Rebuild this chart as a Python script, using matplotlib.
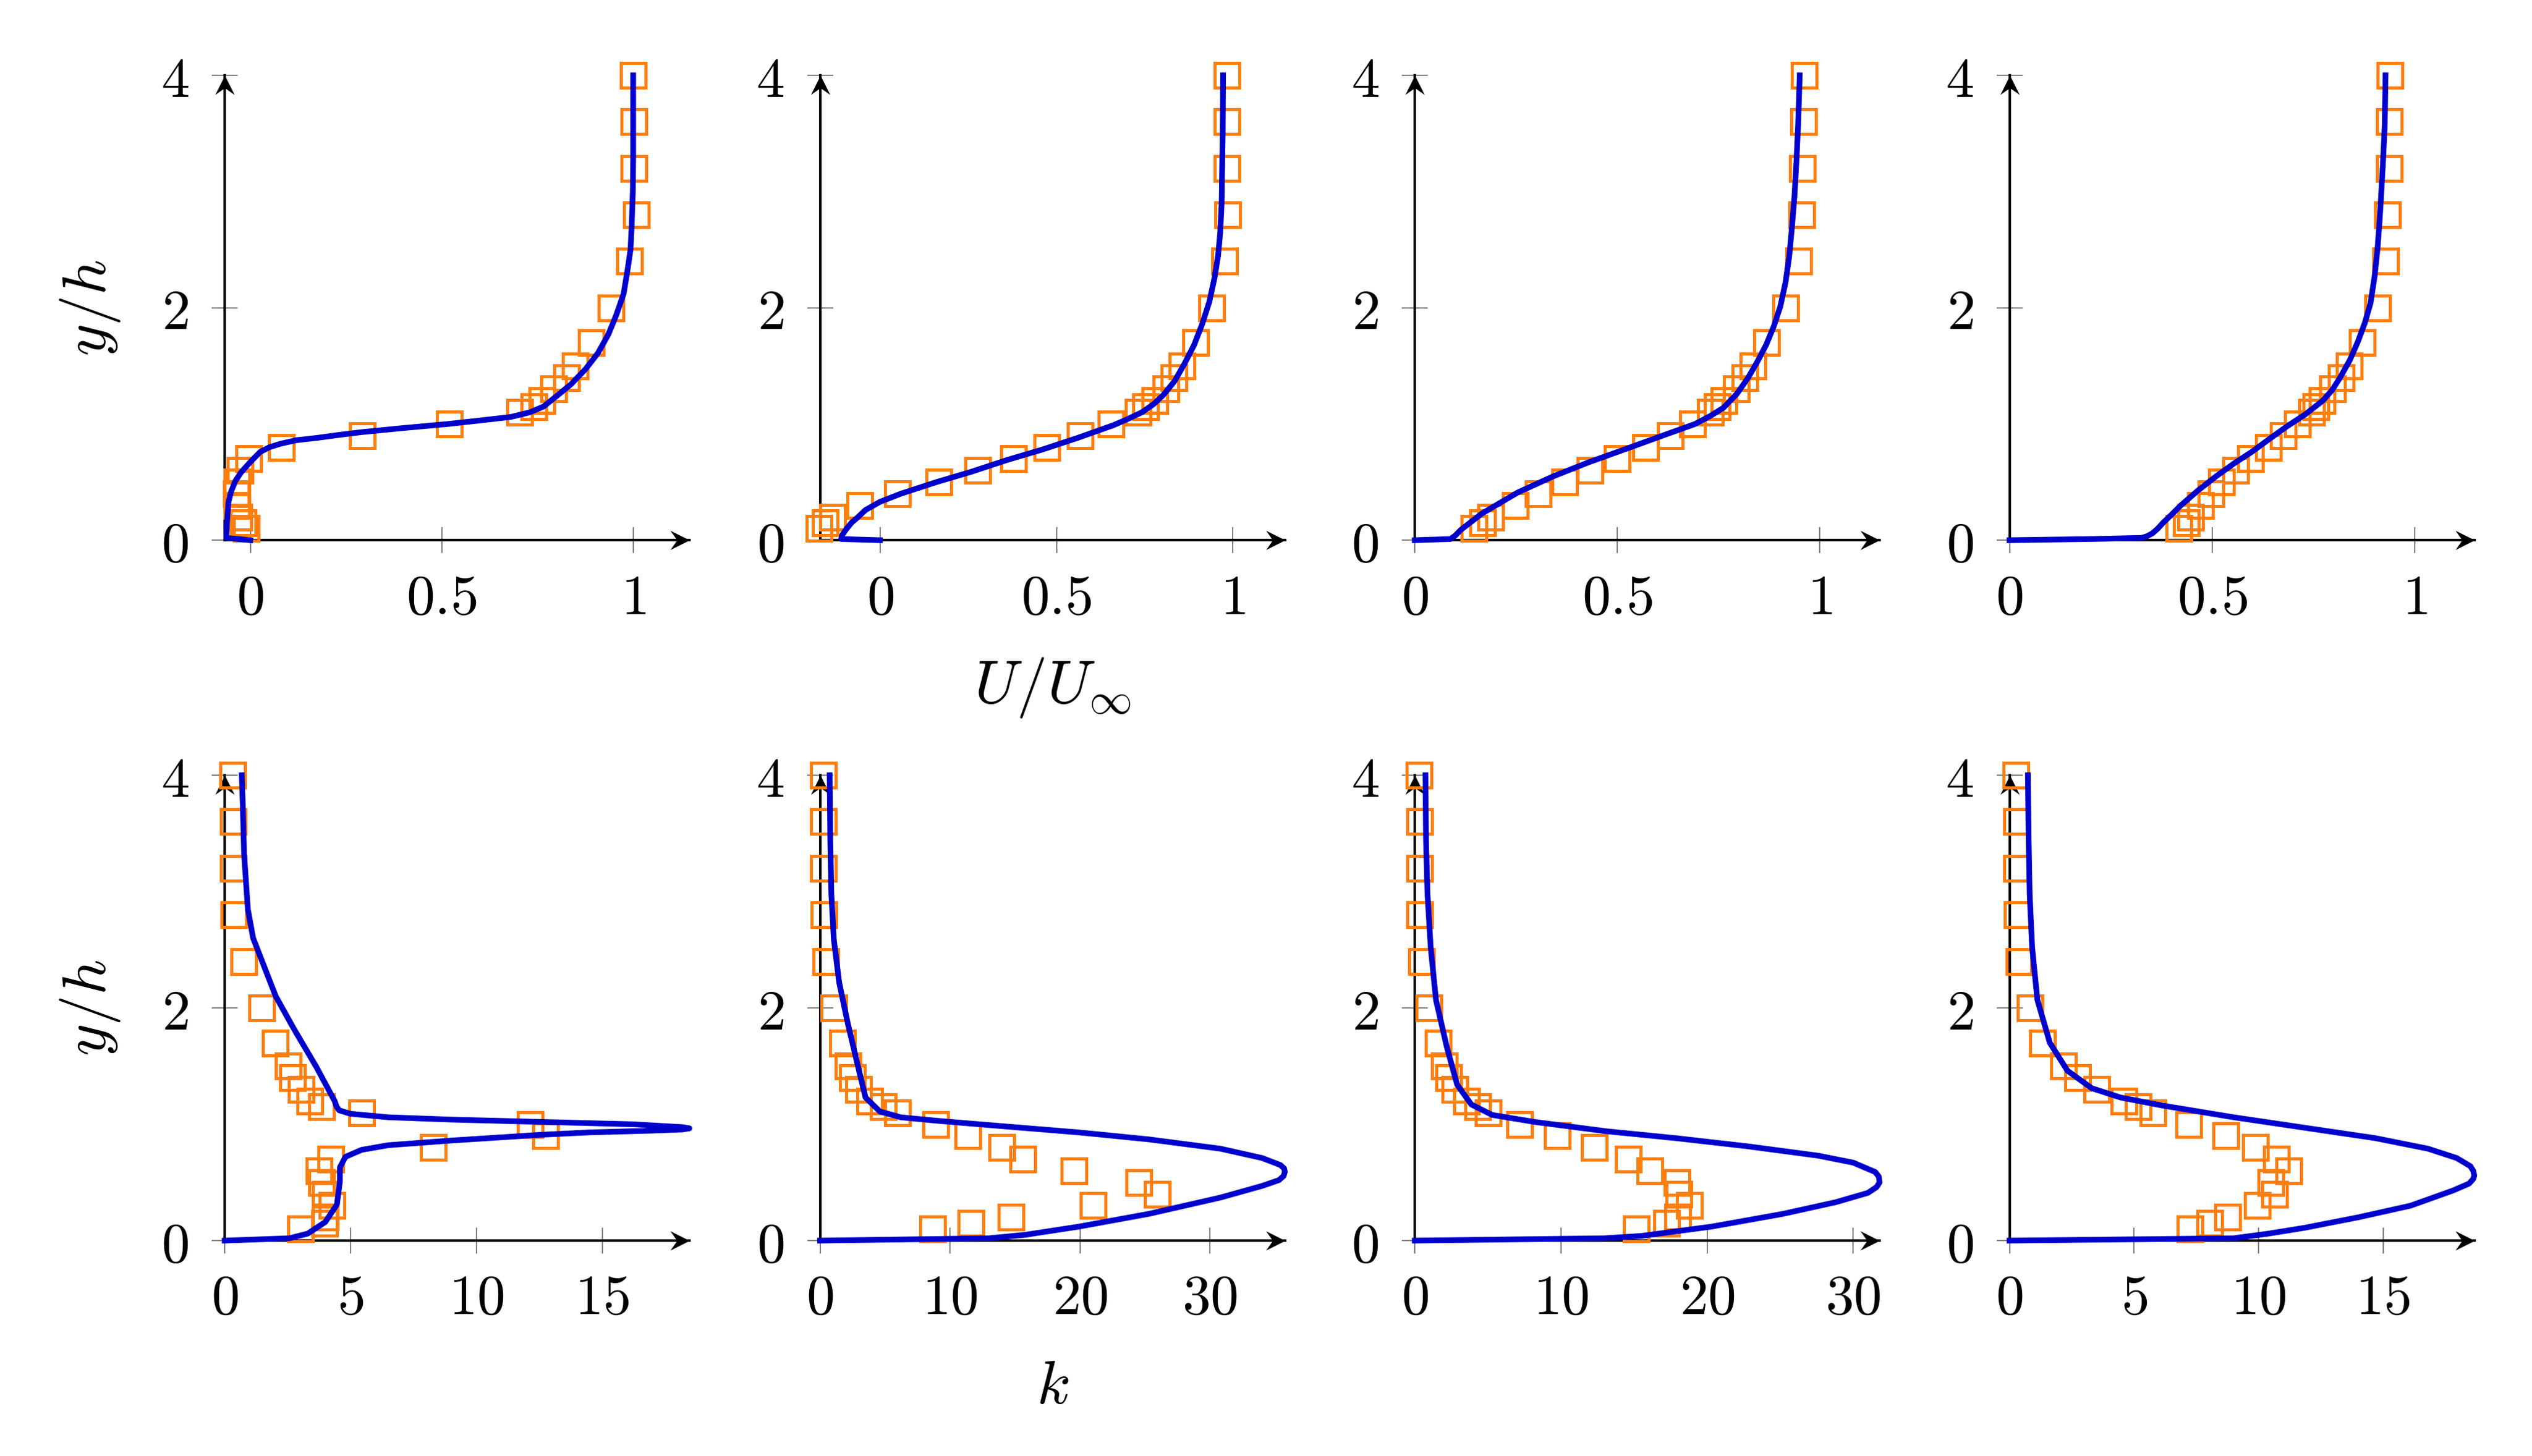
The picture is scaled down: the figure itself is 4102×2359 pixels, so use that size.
import matplotlib
matplotlib.use("Agg")
import matplotlib.pyplot as plt
from matplotlib.path import Path

plt.rcParams['mathtext.fontset'] = 'cm'
plt.rcParams['font.family'] = ['DejaVu Serif']

# experiment heights (same stations for every profile)
y_exp = [4.0, 3.6, 3.2, 2.8, 2.4, 2.0, 1.7, 1.5, 1.4, 1.3, 1.2, 1.15, 1.1,
         1.0, 0.9, 0.8, 0.7, 0.6, 0.5, 0.4, 0.3, 0.2, 0.15, 0.1]

# U/U_inf experiment
u_exp_1 = [1.0, 1.002, 1.002, 1.008, 0.99, 0.942, 0.891, 0.849, 0.826, 0.792, 0.762, 0.740, 0.704,
           0.520, 0.292, 0.082, -0.004, -0.027, -0.035, -0.037, -0.035, -0.03, -0.018, -0.01]
u_exp_2 = [0.984, 0.984, 0.983, 0.985, 0.977, 0.940, 0.894, 0.855, 0.833, 0.810, 0.778, 0.753, 0.731,
           0.655, 0.567, 0.472, 0.379, 0.277, 0.167, 0.050, -0.057, -0.135, -0.156, -0.172]
u_exp_3 = [0.961, 0.959, 0.956, 0.955, 0.948, 0.915, 0.869, 0.835, 0.815, 0.794, 0.763, 0.746, 0.729,
           0.686, 0.630, 0.569, 0.500, 0.433, 0.370, 0.305, 0.248, 0.187, 0.168, 0.146]
u_exp_4 = [0.939, 0.938, 0.937, 0.933, 0.928, 0.908, 0.871, 0.839, 0.818, 0.797, 0.771, 0.757, 0.746,
           0.711, 0.676, 0.639, 0.595, 0.558, 0.523, 0.497, 0.471, 0.447, 0.436, 0.418]

# k experiment
k_exp_1 = [0.32, 0.34, 0.34, 0.38, 0.77, 1.46, 2.0, 2.52, 2.70, 3.05, 3.38, 3.85, 5.44,
           12.15, 12.76, 8.30, 4.22, 3.76, 3.86, 4.0, 4.28, 4.0, 3.97, 3.02]
k_exp_2 = [0.25, 0.27, 0.27, 0.30, 0.46, 1.09, 1.72, 2.18, 2.48, 2.97, 3.84, 4.88, 5.94,
           8.91, 11.36, 14.0, 15.6, 19.56, 24.5, 25.94, 21.0, 14.7, 11.6, 8.66]
k_exp_3 = [0.31, 0.34, 0.34, 0.34, 0.46, 0.99, 1.62, 2.01, 2.32, 2.76, 3.54, 4.29, 5.01,
           7.19, 9.76, 12.28, 14.6, 16.08, 17.94, 18.06, 18.8, 17.99, 17.24, 15.18]
k_exp_4 = [0.27, 0.28, 0.28, 0.30, 0.38, 0.82, 1.32, 2.16, 2.74, 3.51, 4.59, 5.17, 5.77,
           7.19, 8.69, 9.87, 10.72, 11.21, 10.5, 10.64, 9.94, 8.75, 8.05, 7.26]

# simulation, U/U_inf
u_sim_y_1 = [0, 0.02, 0.15, 0.33, 0.42, 0.51, 0.58, 0.64, 0.70, 0.76, 0.80, 0.83, 0.86, 0.88,
             0.905, 0.93, 0.965, 1.0, 1.03, 1.06, 1.10, 1.15, 1.24, 1.34, 1.47, 1.61, 1.77, 1.93,
             2.12, 2.32, 2.50, 2.70, 3.0, 3.29, 4.0]
u_sim_1 = [0, -0.063, -0.061, -0.057, -0.05, -0.039, -0.025, -0.009, 0.008, 0.026, 0.05, 0.079,
           0.12, 0.174, 0.23, 0.292, 0.40, 0.517, 0.60, 0.68, 0.73, 0.766, 0.80, 0.837, 0.875,
           0.908, 0.935, 0.955, 0.975, 0.985, 0.993, 0.996, 0.999, 1.0, 1.0]
u_sim_y_2 = [0, 0.01, 0.04, 0.09, 0.15, 0.20, 0.26, 0.33, 0.40, 0.50, 0.59, 0.69, 0.78, 0.88,
             0.99, 1.04, 1.10, 1.17, 1.25, 1.37, 1.52, 1.68, 1.86, 2.05, 2.26, 2.45, 2.65, 2.9,
             3.11, 3.5, 4.0]
u_sim_2 = [0, -0.11, -0.108, -0.097, -0.081, -0.062, -0.041, 0.0, 0.059, 0.16, 0.26, 0.36, 0.46,
           0.56, 0.662, 0.70, 0.742, 0.775, 0.803, 0.835, 0.863, 0.89, 0.913, 0.933, 0.948,
           0.958, 0.964, 0.968, 0.969, 0.971, 0.972]
u_sim_y_3 = [0, 0.01, 0.04, 0.09, 0.16, 0.23, 0.41, 0.55, 0.67, 0.78, 0.89, 1.0, 1.07, 1.14,
             1.26, 1.40, 1.54, 1.68, 1.84, 2.01, 2.22, 2.44, 2.7, 2.96, 3.27, 3.57, 4.0]
u_sim_3 = [0, 0.088, 0.10, 0.114, 0.14, 0.166, 0.254, 0.342, 0.429, 0.517, 0.604, 0.692, 0.73,
           0.762, 0.795, 0.823, 0.846, 0.867, 0.886, 0.902, 0.915, 0.924, 0.931, 0.937, 0.942,
           0.946, 0.950]
u_sim_y_4 = [0, 0.01, 0.02, 0.035, 0.06, 0.10, 0.15, 0.22, 0.30, 0.43, 0.55, 0.66, 0.76, 0.87,
             0.98, 1.08, 1.20, 1.29, 1.40, 1.55, 1.71, 1.87, 2.04, 2.27, 2.50, 2.73, 2.96, 3.27,
             3.57, 4.0]
u_sim_4 = [0, 0.2, 0.326, 0.34, 0.353, 0.366, 0.379, 0.40, 0.423, 0.466, 0.51, 0.554, 0.598,
           0.641, 0.685, 0.729, 0.773, 0.796, 0.816, 0.84, 0.86, 0.877, 0.891, 0.901, 0.908,
           0.913, 0.917, 0.922, 0.926, 0.928]

# simulation, k
k_sim_y_1 = [0, 0.02, 0.06, 0.16, 0.31, 0.51, 0.63, 0.72, 0.78, 0.82, 0.86, 0.91, 0.93, 0.945,
             0.955, 0.965, 0.975, 0.99, 1.0, 1.02, 1.04, 1.06, 1.09, 1.12, 1.15, 1.2, 1.49, 1.82,
             2.1, 2.35, 2.6, 2.85, 3.33, 3.74, 4.0]
k_sim_1 = [0, 2.57, 3.3, 4.0, 4.46, 4.58, 4.58, 4.8, 5.44, 6.5, 9.0, 12.6, 14.5, 17.0, 18.2,
           18.47, 18.2, 17.0, 16.2, 12.6, 9.0, 6.5, 5.0, 4.55, 4.45, 4.37, 3.65, 2.75, 2.03,
           1.58, 1.13, 0.92, 0.77, 0.72, 0.68]
k_sim_y_2 = [0, 0.02, 0.05, 0.12, 0.23, 0.37, 0.47, 0.52, 0.555, 0.59, 0.62, 0.65, 0.71, 0.79,
             0.87, 0.93, 0.98, 1.03, 1.06, 1.11, 1.23, 1.46, 1.86, 2.22, 2.59, 2.98, 3.44, 4.0]
k_sim_2 = [0, 13, 15.8, 19.9, 25.3, 30.8, 34.0, 35.3, 35.65, 35.75, 35.7, 35.4, 34.0, 30.8,
           25.3, 19.9, 14.4, 9.0, 6.2, 4.6, 3.5, 3.0, 2.15, 1.47, 1.06, 0.87, 0.79, 0.74]
k_sim_y_3 = [0, 0.02, 0.04, 0.08, 0.12, 0.23, 0.33, 0.41, 0.46, 0.50, 0.55, 0.59, 0.67, 0.73,
             0.81, 0.88, 0.94, 1.02, 1.08, 1.17, 1.34, 1.67, 2.07, 2.52, 2.98, 3.44, 4.0]
k_sim_3 = [0, 13, 15.5, 17.9, 20.3, 25.2, 28.8, 31.0, 31.6, 31.8, 31.75, 31.5, 30.0, 27.6, 22.8,
           17.9, 13.1, 8.2, 5.3, 3.87, 2.9, 2.18, 1.45, 1.09, 0.87, 0.77, 0.73]
k_sim_y_4 = [0, 0.02, 0.06, 0.11, 0.20, 0.30, 0.43, 0.49, 0.53, 0.56, 0.60, 0.64, 0.71, 0.79,
             0.88, 0.97, 1.06, 1.16, 1.23, 1.31, 1.46, 1.70, 2.07, 2.52, 2.98, 3.44, 4.0]
k_sim_4 = [0, 9.0, 10.4, 11.85, 14.0, 16.1, 17.8, 18.45, 18.62, 18.66, 18.62, 18.5, 17.95, 16.8,
           14.7, 11.85, 9.0, 6.16, 4.46, 3.3, 2.33, 1.62, 1.12, 0.91, 0.81, 0.77, 0.74]

# axis ranges and ticks
u_xmin = [-0.067, -0.170, 0, 0]
u_xmax = [1.147, 1.147, 1.147, 1.147]
u_ticks = [0, 0.5, 1]
u_ticklabels = ['0', '0.5', '1']
k_xmax = [18.47, 35.75, 31.8, 18.66]
k_ticks = [[0, 5, 10, 15], [0, 10, 20, 30], [0, 10, 20, 30], [0, 5, 10, 15]]
y_ticks = [0, 2, 4]

u_exp = [u_exp_1, u_exp_2, u_exp_3, u_exp_4]
k_exp = [k_exp_1, k_exp_2, k_exp_3, k_exp_4]
u_sim = [(u_sim_1, u_sim_y_1), (u_sim_2, u_sim_y_2), (u_sim_3, u_sim_y_3), (u_sim_4, u_sim_y_4)]
k_sim = [(k_sim_1, k_sim_y_1), (k_sim_2, k_sim_y_2), (k_sim_3, k_sim_y_3), (k_sim_4, k_sim_y_4)]

W, H = 4102, 2359
lefts = [364, 1328.5, 2292, 3255.5]
pw = 753
rows = [(122, 875.2), (1256, 2010)]

line_col = '#0000cc'
mark_col = '#ff7f0e'

# stealth-like arrow heads
arr_right = Path([(0, 0), (-1, 0.5), (-0.65, 0), (-1, -0.5), (0, 0)],
                 [Path.MOVETO, Path.LINETO, Path.LINETO, Path.LINETO, Path.CLOSEPOLY])
arr_up = Path([(0, 0), (-0.5, -1), (0, -0.65), (0.5, -1), (0, 0)],
              [Path.MOVETO, Path.LINETO, Path.LINETO, Path.LINETO, Path.CLOSEPOLY])

fig = plt.figure(figsize=(W / 300, H / 300), dpi=300)


def style_axis(ax, xmin, xmax, xticks, xlabels):
    ax.set_xlim(xmin, xmax)
    ax.set_ylim(0, 4)
    for s in ['top', 'right']:
        ax.spines[s].set_visible(False)
    for s in ['left', 'bottom']:
        ax.spines[s].set_linewidth(1.0)
        ax.spines[s].set_zorder(2.5)
    ax.set_xticks(xticks)
    ax.set_xticklabels(['$' + t + '$' for t in xlabels], fontsize=22)
    ax.set_yticks(y_ticks)
    ax.set_yticklabels(['$%d$' % t for t in y_ticks], fontsize=22)
    ax.tick_params(direction='inout', length=10, width=0.5, color='#808080')
    ax.tick_params(axis='x', pad=7)
    ax.tick_params(axis='y', pad=9)
    ax.plot([xmax], [0], marker=arr_right, ms=15, color='k', mew=0, clip_on=False, zorder=2.6)
    ax.plot([xmin], [4], marker=arr_up, ms=15, color='k', mew=0, clip_on=False, zorder=2.6)
    ax.patch.set_alpha(0)


for r, (top, bot) in enumerate(rows):
    for c in range(4):
        ax = fig.add_axes([lefts[c] / W, 1 - bot / H, pw / W, (bot - top) / H])
        if r == 0:
            xs, ys = u_sim[c]
            xe = u_exp[c]
            style_axis(ax, u_xmin[c], u_xmax[c], u_ticks, u_ticklabels)
        else:
            xs, ys = k_sim[c]
            xe = k_exp[c]
            style_axis(ax, 0, k_xmax[c], k_ticks[c], [str(t) for t in k_ticks[c]])
        ax.plot(xe, y_exp, 's', ms=9.6, mfc='none', mec=mark_col, mew=1.2,
                clip_on=False, zorder=3)
        ax.plot(xs, ys, '-', color=line_col, lw=2.2, clip_on=False, zorder=4,
                solid_joinstyle='round')
        if c == 0:
            ax.text(-0.29, 0.5, '$y/h$', transform=ax.transAxes, rotation=90,
                    ha='center', va='center', fontsize=24)
        if c == 1:
            lab = '$U/U_\\infty$' if r == 0 else '$k$'
            ax.text(0.5, -0.35, lab, transform=ax.transAxes, ha='center',
                    va='baseline', fontsize=24)

fig.savefig('out.png', dpi=300)
